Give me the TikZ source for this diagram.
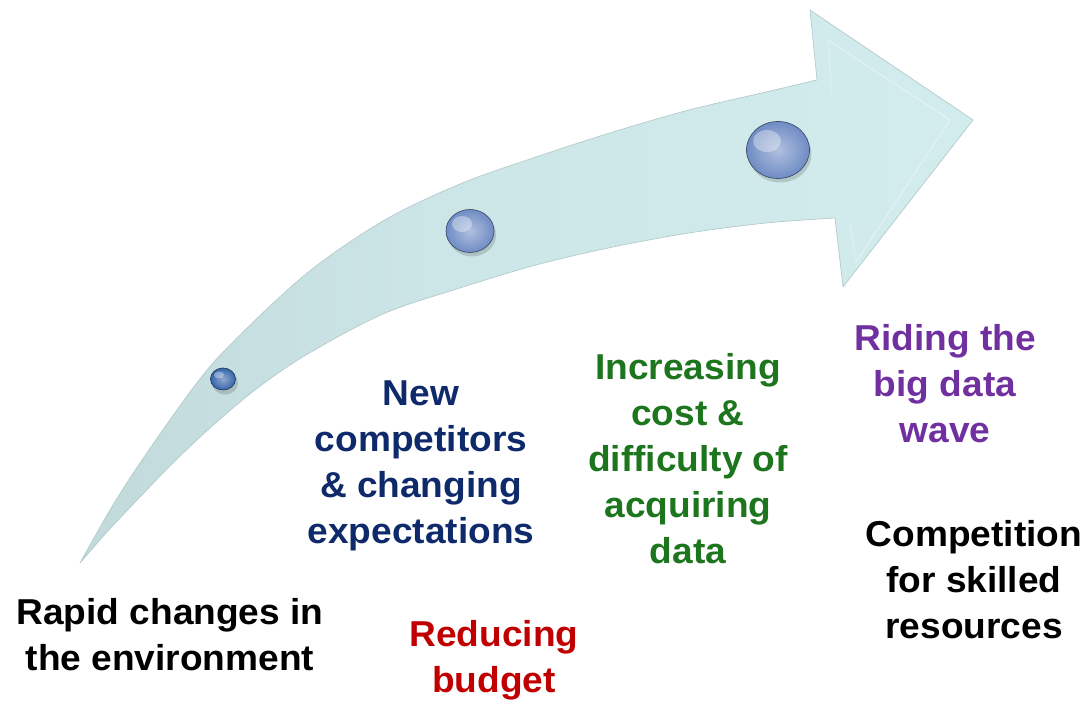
\documentclass[tikz,border=0pt]{standalone}
\usepackage{fontspec}
\setmainfont{Liberation Sans}
\newfontfamily\lblfont{Liberation Sans}[FakeStretch=1.03]
\usetikzlibrary{shapes.geometric}
\definecolor{tailc}{HTML}{B5CBCC}
\definecolor{midc}{HTML}{CCE5E7}
\definecolor{headc}{HTML}{D8F1F3}
\definecolor{edgec}{HTML}{B2CACC}
\definecolor{navy}{HTML}{0F2A6B}
\definecolor{dgreen}{HTML}{1D761D}
\definecolor{dred}{HTML}{C00000}
\definecolor{purp}{HTML}{7030A0}
\definecolor{btn}{HTML}{6F8CC4}
\definecolor{btnsmall}{HTML}{3565AA}
\pgfdeclarehorizontalshading{arrowsh}{100bp}{color(0bp)=(tailc); color(45bp)=(midc); color(100bp)=(headc)}
\begin{document}
\begin{tikzpicture}[x=0.75pt,y=-0.75pt,
  lbl/.style={font=\lblfont\bfseries\fontsize{27}{34.5}\selectfont, align=center, inner sep=0pt, anchor=base},
  knob/.style={ellipse, inner sep=0pt, inner color=#1!55!white, outer color=#1, draw=#1!55!black, line width=0.5pt},
  knobshadow/.style={fill=black, opacity=0.15},
  gloss/.style={fill=white, opacity=0.35}]
\useasboundingbox (0,0) rectangle (1085,705);
% arrow body
\path[shading=arrowsh, draw=edgec, line width=0.5pt, line join=round]
  plot[smooth, tension=0.55] coordinates {(80,563) (110,510) (140,463) (193,388) (230,345) (306,274) (383,221) (460,184) (536,157) (613,132) (689,110) (766,92) (817,80)}
  -- (810,10) -- (973,120) -- (843,287) -- (835,218)
  -- plot[smooth, tension=0.55] coordinates {(835,218) (766,223) (689,233) (613,247) (536,265) (460,288) (383,314) (306,355) (255,390) (210,428) (173,463) (140,497) (107,532) (80,563)}
  -- cycle;
% bevel of the head
\draw[white, opacity=0.35, line width=1pt, line join=round] (828,40) -- (950,120) -- (856,262);
\draw[white, opacity=0.25, line width=1pt] (828,40) -- (832,95);
\draw[white, opacity=0.25, line width=1pt] (856,262) -- (850,225);
% knobs
\fill[knobshadow] (225,383) ellipse (13 and 11.5);
\fill[knobshadow] (472,235) ellipse (24 and 21.5);
\fill[knobshadow] (780,154) ellipse (31.5 and 28.5);
\node[knob=btnsmall, minimum width=25*0.75pt, minimum height=22*0.75pt] (k1) at (223,379) {};
\node[knob=btn, minimum width=48*0.75pt, minimum height=43*0.75pt] (k2) at (470,231) {};
\node[knob=btn, minimum width=63*0.75pt, minimum height=57*0.75pt] (k3) at (778,150) {};
\fill[gloss] (219,375) ellipse (5 and 3.5);
\fill[gloss] (462,224) ellipse (10 and 8);
\fill[gloss] (767,141) ellipse (14 and 11);
% labels (anchored at the baseline of their last line)
\node[lbl, text=black] (t1) at (170,670) {Rapid changes in\\the environment};
\node[lbl, text=dred] (t2) at (494,692) {Reducing\\budget};
\node[lbl, text=navy] (t3) at (421,543) {New\\competitors\\\& changing\\expectations};
\node[lbl, text=dgreen] (t4) at (688,563) {Increasing\\cost \&\\difficulty of\\acquiring\\data};
\node[lbl, text=purp] (t5) at (945,443) {Riding the\\big data\\wave};
\node[lbl, text=black] (t6) at (974,638) {Competition\\for skilled\\resources};
\end{tikzpicture}
\end{document}
